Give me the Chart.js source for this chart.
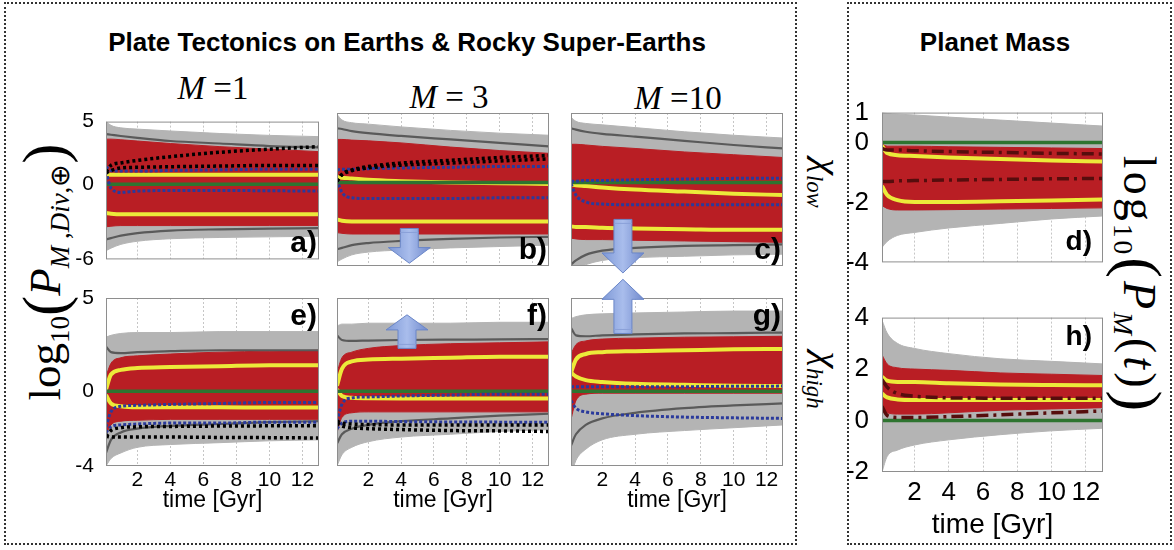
<!DOCTYPE html>
<html>
<head>
<meta charset="utf-8">
<script src="https://cdn.jsdelivr.net/npm/chart.js"></script>
<style>
  html, body { margin: 0; padding: 0; background: #fff; }
  #fig { position: relative; width: 1174px; height: 550px; overflow: hidden; font-family: 'Liberation Sans', Arial, sans-serif; }
  #fig canvas { position: absolute; }
  .box { position: absolute; border: 2px dotted #333; box-sizing: border-box; }
  .t { position: absolute; white-space: nowrap; transform: translate(-50%, -50%); line-height: 1; }
  .serif { font-family: 'Liberation Serif', 'Times New Roman', serif; }
  .sub { font-size: 0.6em; vertical-align: -0.35em; }
  .bp { font-size: 1.35em; vertical-align: -0.08em; }
</style>
</head>
<body>
<div id="fig">
  <div class="box" style="left:4px; top:2px; width:793px; height:543px;"></div>
  <div class="box" style="left:847px; top:2px; width:325px; height:543px;"></div>

  <div class="t" style="left:407px; top:42px; font-weight:bold; font-size:26px;">Plate Tectonics on Earths &amp; Rocky Super-Earths</div>
  <div class="t" style="left:995px; top:42px; font-weight:bold; font-size:26px;">Planet Mass</div>

  <div class="t serif" style="left:213px; top:88px; font-size:33px;"><i>M</i> =1</div>
  <div class="t serif" style="left:449px; top:97px; font-size:33px;"><i>M</i> = 3</div>
  <div class="t serif" style="left:678px; top:98px; font-size:33px;"><i>M</i> =10</div>

  <div class="t serif" style="left:45px; top:272px; font-size:45px; transform: translate(-50%, -50%) rotate(-90deg);">log<span class="sub">10</span><span class="bp">(</span><i>P</i><span class="sub"><i>M</i> ,<i>Div</i>,⊕</span><span class="bp">)</span></div>
  <div class="t serif" style="left:1140px; top:285px; font-size:46px; letter-spacing:3px; transform: translate(-50%, -50%) rotate(90deg);">log<span class="sub">10</span><span class="bp">(</span><i>P</i><span class="sub"><i>M</i></span>(<i>t</i>)<span class="bp">)</span></div>

  <div class="t serif" style="left:825px; top:183px; font-size:38px; transform: translate(-50%, -50%) rotate(90deg);"><i>χ</i><span class="sub"><i>low</i></span></div>
  <div class="t serif" style="left:825px; top:380px; font-size:38px; transform: translate(-50%, -50%) rotate(90deg);"><i>χ</i><span class="sub"><i>high</i></span></div>
</div>
<script>
// time samples (Gyr) shared by all curves
const TIME = [0.1, 0.4, 1, 2, 4, 7, 10, 13];
const X_TICKS = [2, 4, 6, 8, 10, 12];
const EARTH = [0, 0, 0, 0, 0, 0, 0, 0];

// a) M=1, chi low
const A_GRAY_HI = [5.0, 4.7, 4.5, 4.4, 4.25, 4.05, 3.9, 3.8];
const A_GRAY_LO = [-5.3, -5.1, -4.8, -4.55, -4.35, -4.25, -4.2, -4.15];
const A_RED_HI = [3.6, 3.6, 3.55, 3.45, 3.25, 3.0, 2.8, 2.6];
const A_RED_LO = [-3.4, -3.35, -3.3, -3.3, -3.3, -3.3, -3.3, -3.3];
const A_DGRAY_HI = [4.0, 3.95, 3.85, 3.7, 3.45, 3.25, 3.05, 2.95];
const A_DGRAY_LO = [-4.4, -4.3, -4.1, -3.9, -3.7, -3.6, -3.55, -3.5];
const A_YEL_HI = [0.85, 0.75, 0.75, 0.75, 0.75, 0.75, 0.75, 0.75];
const A_YEL_LO = [-2.3, -2.35, -2.4, -2.4, -2.4, -2.4, -2.4, -2.4];
const A_BLK_HI = [1.0, 1.5, 1.7, 1.9, 2.2, 2.55, 2.8, 3.0];
const A_BLK_LO = [0.9, 1.1, 1.3, 1.35, 1.4, 1.45, 1.5, 1.5];
const A_BLU_HI = [1.4, 1.1, 1.05, 1.05, 1.1, 1.15, 1.2, 1.2];
const A_BLU_LO = [1.0, -0.3, -0.65, -0.55, -0.5, -0.5, -0.52, -0.55];

// b) M=3, chi low
const B_GRAY_HI = [4.9, 4.5, 4.3, 4.2, 4.0, 3.75, 3.55, 3.4];
const B_GRAY_LO = [-5.7, -5.5, -5.2, -5.0, -4.85, -4.7, -4.6, -4.5];
const B_RED_HI = [3.1, 3.1, 3.05, 3.0, 2.85, 2.55, 2.3, 2.1];
const B_RED_LO = [-3.6, -3.65, -3.7, -3.7, -3.7, -3.7, -3.7, -3.7];
const B_DGRAY_HI = [3.9, 3.85, 3.7, 3.55, 3.35, 3.1, 2.85, 2.6];
const B_DGRAY_LO = [-4.8, -4.7, -4.5, -4.35, -4.2, -4.05, -3.95, -3.9];
const B_YEL_HI = [0.4, 0.35, 0.3, 0.2, 0.1, 0.0, -0.05, -0.1];
const B_YEL_LO = [-2.65, -2.75, -2.8, -2.8, -2.8, -2.8, -2.8, -2.8];
const B_BLK_HI = [0.1, 0.6, 0.9, 1.15, 1.4, 1.6, 1.8, 1.95];
const B_BLK_LO = [0.1, 0.55, 0.85, 1.05, 1.25, 1.4, 1.55, 1.7];
const B_BLU_HI = [0.9, 0.95, 0.95, 1.0, 1.05, 1.1, 1.15, 1.15];
const B_BLU_LO = [0.2, -0.7, -1.1, -1.15, -1.15, -1.15, -1.1, -1.1];

// c) M=10, chi low
const C_GRAY_HI = [4.7, 4.4, 4.25, 4.15, 3.95, 3.65, 3.4, 3.2];
const C_GRAY_LO = [-6.5, -6.2, -5.9, -5.6, -5.4, -5.3, -5.2, -5.15];
const C_RED_HI = [2.75, 2.75, 2.7, 2.6, 2.45, 2.2, 2.0, 1.8];
const C_RED_LO = [-4.0, -4.05, -4.1, -4.1, -4.15, -4.2, -4.25, -4.3];
const C_DGRAY_HI = [3.9, 3.8, 3.65, 3.5, 3.3, 3.0, 2.7, 2.45];
const C_DGRAY_LO = [-5.9, -5.6, -5.2, -4.9, -4.7, -4.55, -4.5, -4.45];
const C_YEL_HI = [-0.15, -0.2, -0.25, -0.35, -0.5, -0.65, -0.8, -0.9];
const C_YEL_LO = [-3.15, -3.2, -3.2, -3.25, -3.3, -3.35, -3.4, -3.4];
const C_BLU_HI = [0.1, 0.1, 0.15, 0.15, 0.2, 0.25, 0.3, 0.3];
const C_BLU_LO = [-0.1, -0.9, -1.4, -1.55, -1.6, -1.6, -1.6, -1.6];

// e) M=1, chi high
const E_GRAY_HI = [2.9, 3.0, 3.1, 3.15, 3.15, 3.2, 3.2, 3.2];
const E_GRAY_LO = [-4.0, -3.6, -3.3, -3.0, -2.85, -2.75, -2.65, -2.6];
const E_RED_HI = [0.8, 1.5, 1.8, 1.9, 2.0, 2.1, 2.15, 2.2];
const E_RED_LO = [-2.3, -1.8, -1.6, -1.55, -1.5, -1.5, -1.5, -1.5];
const E_DGRAY_HI = [2.4, 2.1, 2.05, 2.1, 2.15, 2.2, 2.2, 2.2];
const E_DGRAY_LO = [-3.3, -2.6, -2.2, -2.0, -1.85, -1.75, -1.65, -1.6];
const E_YEL_HI = [0.1, 0.9, 1.15, 1.25, 1.3, 1.35, 1.4, 1.4];
const E_YEL_LO = [-0.2, -0.65, -0.8, -0.85, -0.85, -0.85, -0.87, -0.87];
const E_BLK_HI = [-2.4, -2.1, -1.95, -1.9, -1.88, -1.86, -1.85, -1.85];
const E_BLK_LO = [-2.4, -2.45, -2.45, -2.45, -2.45, -2.47, -2.48, -2.5];
const E_BLU_HI = [-1.9, -1.1, -0.8, -0.75, -0.7, -0.65, -0.6, -0.6];
const E_BLU_LO = [-2.2, -1.9, -1.8, -1.75, -1.7, -1.7, -1.65, -1.65];

// f) M=3, chi high
const F_GRAY_HI = [3.5, 3.6, 3.6, 3.65, 3.65, 3.65, 3.7, 3.7];
const F_GRAY_LO = [-4.0, -3.4, -3.0, -2.7, -2.45, -2.3, -2.15, -2.05];
const F_RED_HI = [1.0, 1.8, 2.1, 2.3, 2.45, 2.55, 2.6, 2.65];
const F_RED_LO = [-2.2, -1.4, -1.15, -1.1, -1.1, -1.1, -1.1, -1.1];
const F_DGRAY_HI = [3.0, 2.75, 2.7, 2.72, 2.75, 2.77, 2.78, 2.8];
const F_DGRAY_LO = [-2.8, -2.3, -2.0, -1.8, -1.6, -1.45, -1.3, -1.2];
const F_YEL_HI = [0.3, 1.2, 1.6, 1.7, 1.75, 1.8, 1.85, 1.85];
const F_YEL_LO = [0.1, -0.25, -0.35, -0.37, -0.38, -0.38, -0.38, -0.38];
const F_BLK_HI = [-1.6, -1.7, -1.75, -1.78, -1.8, -1.8, -1.8, -1.8];
const F_BLK_LO = [-1.7, -1.85, -1.95, -2.0, -2.05, -2.1, -2.12, -2.15];
const F_BLU_HI = [-1.6, -0.7, -0.35, -0.3, -0.25, -0.2, -0.15, -0.15];
const F_BLU_LO = [-2.0, -1.7, -1.6, -1.6, -1.62, -1.64, -1.65, -1.66];

// g) M=10, chi high
const G_GRAY_HI = [3.9, 4.0, 4.1, 4.15, 4.2, 4.25, 4.3, 4.3];
const G_GRAY_LO = [-4.5, -3.7, -3.1, -2.6, -2.3, -2.1, -1.95, -1.8];
const G_RED_HI = [2.0, 2.5, 2.7, 2.8, 2.85, 2.9, 2.92, 2.95];
const G_RED_LO = [-1.5, -0.5, -0.15, -0.1, -0.1, -0.1, -0.1, -0.1];
const G_DGRAY_HI = [3.4, 3.0, 2.95, 3.0, 3.05, 3.1, 3.12, 3.15];
const G_DGRAY_LO = [-2.9, -2.3, -1.8, -1.45, -1.15, -0.9, -0.75, -0.65];
const G_YEL_HI = [1.0, 1.7, 2.0, 2.1, 2.15, 2.2, 2.25, 2.27];
const G_YEL_LO = [1.0, 0.8, 0.6, 0.5, 0.4, 0.35, 0.3, 0.28];
const G_BLU_HI = [0.25, 0.25, 0.25, 0.25, 0.25, 0.25, 0.27, 0.28];
const G_BLU_LO = [-0.5, -0.9, -1.1, -1.2, -1.3, -1.38, -1.42, -1.45];

// d) planet mass, chi low
const D_GRAY_HI = [1.0, 0.97, 0.95, 0.92, 0.85, 0.75, 0.65, 0.55];
const D_GRAY_LO = [-3.5, -3.3, -3.1, -3.0, -2.85, -2.7, -2.55, -2.45];
const D_RED_HI = [-0.05, -0.12, -0.12, -0.12, -0.14, -0.16, -0.18, -0.2];
const D_RED_LO = [-2.1, -2.2, -2.25, -2.25, -2.24, -2.22, -2.2, -2.18];
const D_YEL_HI = [-0.1, -0.35, -0.42, -0.45, -0.5, -0.55, -0.6, -0.63];
const D_YEL_LO = [-1.45, -1.75, -1.92, -1.98, -1.98, -1.96, -1.93, -1.9];
const D_DASH_HI = [-0.2, -0.25, -0.25, -0.27, -0.3, -0.33, -0.36, -0.38];
const D_DASH_LO = [-1.3, -1.3, -1.28, -1.27, -1.25, -1.23, -1.21, -1.2];

// h) planet mass, chi high
const H_GRAY_HI = [3.9, 3.4, 3.0, 2.8, 2.6, 2.4, 2.3, 2.2];
const H_GRAY_LO = [-2.0, -1.4, -1.15, -0.95, -0.75, -0.55, -0.4, -0.3];
const H_RED_HI = [2.55, 2.2, 2.05, 2.0, 1.95, 1.85, 1.8, 1.75];
const H_RED_LO = [0.4, 0.3, 0.25, 0.25, 0.3, 0.4, 0.45, 0.5];
const H_YEL_HI = [1.7, 1.55, 1.5, 1.5, 1.45, 1.4, 1.38, 1.37];
const H_YEL_LO = [1.05, 0.9, 0.82, 0.8, 0.8, 0.8, 0.8, 0.8];
const H_DASH_HI = [1.6, 1.3, 1.05, 0.95, 0.88, 0.87, 0.87, 0.87];
const H_DASH_LO = [0.55, 0.2, 0.12, 0.12, 0.15, 0.22, 0.3, 0.37];

// blue arrows (x in Gyr, from/to in log units)
const ARROW_B = [{ x: 4.5, from: -3.3, to: -5.8 }];
const ARROW_C = [{ x: 3.26, from: -2.65, to: -6.5 }];
const ARROW_F = [{ x: 4.36, from: 2.3, to: 4.1 }];
const ARROW_G = [{ x: 3.26, from: 3.1, to: 6.0 }];

const COL = {
  gray: '#b4b4b4', red: '#b91e24', yellow: '#ecea3a', dgray: '#5a5a5a',
  green: '#2e7430', black: '#000000', blue: '#2a3a9c', dash: '#560d0d'
};
const FONT = "'Liberation Sans', Arial, sans-serif";

const pts = (ys) => TIME.map((t, i) => ({ x: t, y: ys[i] }));

function line(ys, color, width, dash) {
  return {
    data: pts(ys), borderColor: color, borderWidth: width, borderDash: dash || [],
    fill: false, pointRadius: 0, cubicInterpolationMode: 'monotone', clip: 0,
  };
}

function band(hi, lo, color) {
  return [
    { data: pts(hi), borderColor: color, backgroundColor: color, borderWidth: 1, fill: '+1', pointRadius: 0, cubicInterpolationMode: 'monotone', clip: 0 },
    { data: pts(lo), borderColor: color, borderWidth: 1, fill: false, pointRadius: 0, cubicInterpolationMode: 'monotone', clip: 0 },
  ];
}

const blk = (ys) => line(ys, COL.black, 3.5, [3, 3]);
const blu = (ys) => line(ys, COL.blue, 3, [3, 2]);
const ddot = (ys) => line(ys, COL.dash, 3.5, [12, 5, 3, 5]);
const yel = (ys) => line(ys, COL.yellow, 4);
const dgr = (ys) => line(ys, COL.dgray, 2.2);
const grn = () => line(EARTH, COL.green, 3.5);

function drawArrow(ctx, cx, y0, y1) {
  const dir = y1 > y0 ? 1 : -1;
  const sw = 9;
  const hw = 21;
  const hl = Math.min(20, Math.abs(y1 - y0) * 0.45);
  const yh = y1 - dir * hl;
  const g = ctx.createLinearGradient(cx - hw, 0, cx + hw, 0);
  g.addColorStop(0, '#7d98d6');
  g.addColorStop(0.5, '#a9bdec');
  g.addColorStop(1, '#7089cc');
  ctx.beginPath();
  ctx.moveTo(cx - sw, y0);
  ctx.lineTo(cx + sw, y0);
  ctx.lineTo(cx + sw, yh);
  ctx.lineTo(cx + hw, yh);
  ctx.lineTo(cx, y1);
  ctx.lineTo(cx - hw, yh);
  ctx.lineTo(cx - sw, yh);
  ctx.closePath();
  ctx.fillStyle = g;
  ctx.fill();
  ctx.strokeStyle = '#6a86c8';
  ctx.lineWidth = 1;
  ctx.stroke();
  ctx.beginPath();
  ctx.moveTo(cx - sw, y0 + dir * 4);
  ctx.lineTo(cx + sw, y0 + dir * 4);
  ctx.strokeStyle = '#8aa0d8';
  ctx.stroke();
}

const deco = {
  id: 'deco',
  afterDatasetsDraw(chart, args, o) {
    const { ctx, chartArea: a, scales } = chart;
    ctx.save();
    ctx.strokeStyle = '#8e8e8e';
    ctx.lineWidth = 1;
    ctx.strokeRect(a.left + 0.5, a.top + 0.5, a.width - 1, a.height - 1);
    (o.arrows || []).forEach((ar) => {
      drawArrow(ctx, scales.x.getPixelForValue(ar.x), scales.y.getPixelForValue(ar.from), scales.y.getPixelForValue(ar.to));
    });
    ctx.font = `bold ${o.letterSize}px ${FONT}`;
    ctx.fillStyle = '#000';
    ctx.textAlign = 'right';
    if (o.letterAt === 'bottom') {
      ctx.textBaseline = 'alphabetic';
      ctx.fillText(o.letter, a.right - o.letterRight, a.bottom - o.letterOff);
    } else {
      ctx.textBaseline = 'top';
      ctx.fillText(o.letter, a.right - o.letterRight, a.top + o.letterOff);
    }
    ctx.restore();
  },
};

function panel(p) {
  const cv = document.createElement('canvas');
  const w = p.w + p.padL + p.padR;
  const h = p.h + p.padT + p.padB;
  cv.width = w;
  cv.height = h;
  cv.style.left = `${p.x - p.padL}px`;
  cv.style.top = `${p.y - p.padT}px`;
  document.getElementById('fig').appendChild(cv);
  const big = p.big;
  return new Chart(cv, {
    type: 'line',
    data: { datasets: p.sets },
    options: {
      responsive: false,
      animation: false,
      devicePixelRatio: 1,
      layout: { padding: { top: p.padT, right: p.padR, left: 0, bottom: 0 } },
      plugins: {
        legend: { display: false },
        tooltip: { enabled: false },
        deco: {
          letter: p.letter, letterAt: p.letterAt, letterSize: p.letterSize || 30,
          letterRight: p.letterRight || 2, letterOff: p.letterOff || 7, arrows: p.arrows,
        },
      },
      scales: {
        x: {
          type: 'linear',
          min: 0.1,
          max: 13,
          afterBuildTicks: (s) => { s.ticks = X_TICKS.map((v) => ({ value: v })); },
          afterFit: (s) => { s.height = p.padB; },
          grid: { color: '#c6c6c6', lineWidth: 1, drawTicks: false },
          border: { display: false, dash: [2, 2] },
          ticks: {
            display: !!p.xLabels, color: '#000', padding: big ? 5 : 2, maxRotation: 0, autoSkip: false,
            font: { family: FONT, size: big ? 26 : 21 },
          },
          title: {
            display: !!p.xLabels, text: 'time [Gyr]', color: '#000', padding: 0,
            font: { family: FONT, size: big ? 28 : 23 },
          },
        },
        y: {
          min: p.yMin,
          max: p.yMax,
          afterBuildTicks: (s) => { s.ticks = (p.yTicks || []).map((v) => ({ value: v })); },
          afterFit: (s) => { s.width = p.padL; },
          grid: { display: false },
          border: { display: false },
          ticks: {
            display: !!p.yTicks, color: '#000', padding: big ? 5 : 4,
            font: { family: FONT, size: big ? 26 : 21 },
            callback: (v) => String(v),
          },
        },
      },
    },
    plugins: [deco],
  });
}

panel({
  x: 106, y: 113, w: 213, h: 153, padL: 40, padT: 8, padR: 4, padB: 10,
  yMin: -6, yMax: 5, yTicks: [5, 0, -6], letter: 'a)', letterAt: 'bottom',
  sets: [blk(A_BLK_HI), blk(A_BLK_LO), blu(A_BLU_HI), blu(A_BLU_LO), grn(),
    dgr(A_DGRAY_HI), dgr(A_DGRAY_LO), yel(A_YEL_HI), yel(A_YEL_LO),
    ...band(A_RED_HI, A_RED_LO, COL.red), ...band(A_GRAY_HI, A_GRAY_LO, COL.gray)],
});
panel({
  x: 337, y: 113, w: 212, h: 153, padL: 4, padT: 8, padR: 4, padB: 10,
  yMin: -6, yMax: 5, letter: 'b)', letterAt: 'bottom', arrows: ARROW_B,
  sets: [blk(B_BLK_HI), blk(B_BLK_LO), blu(B_BLU_HI), blu(B_BLU_LO), grn(),
    dgr(B_DGRAY_HI), dgr(B_DGRAY_LO), yel(B_YEL_HI), yel(B_YEL_LO),
    ...band(B_RED_HI, B_RED_LO, COL.red), ...band(B_GRAY_HI, B_GRAY_LO, COL.gray)],
});
panel({
  x: 571, y: 113, w: 212, h: 153, padL: 4, padT: 8, padR: 4, padB: 10,
  yMin: -6, yMax: 5, letter: 'c)', letterAt: 'bottom', arrows: ARROW_C,
  sets: [blu(C_BLU_HI), blu(C_BLU_LO), grn(),
    dgr(C_DGRAY_HI), dgr(C_DGRAY_LO), yel(C_YEL_HI), yel(C_YEL_LO),
    ...band(C_RED_HI, C_RED_LO, COL.red), ...band(C_GRAY_HI, C_GRAY_LO, COL.gray)],
});
panel({
  x: 106, y: 298, w: 213, h: 168, padL: 40, padT: 22, padR: 4, padB: 48,
  yMin: -4, yMax: 5, yTicks: [5, 0, -4], xLabels: true, letter: 'e)', letterAt: 'top', letterOff: 4,
  sets: [blk(E_BLK_HI), blk(E_BLK_LO), blu(E_BLU_HI), blu(E_BLU_LO), grn(),
    dgr(E_DGRAY_HI), dgr(E_DGRAY_LO), yel(E_YEL_HI), yel(E_YEL_LO),
    ...band(E_RED_HI, E_RED_LO, COL.red), ...band(E_GRAY_HI, E_GRAY_LO, COL.gray)],
});
panel({
  x: 337, y: 298, w: 212, h: 168, padL: 4, padT: 22, padR: 4, padB: 48,
  yMin: -4, yMax: 5, xLabels: true, letter: 'f)', letterAt: 'top', letterOff: 4, arrows: ARROW_F,
  sets: [blk(F_BLK_HI), blk(F_BLK_LO), blu(F_BLU_HI), blu(F_BLU_LO), grn(),
    dgr(F_DGRAY_HI), dgr(F_DGRAY_LO), yel(F_YEL_HI), yel(F_YEL_LO),
    ...band(F_RED_HI, F_RED_LO, COL.red), ...band(F_GRAY_HI, F_GRAY_LO, COL.gray)],
});
panel({
  x: 571, y: 298, w: 212, h: 168, padL: 4, padT: 22, padR: 4, padB: 48,
  yMin: -4, yMax: 5, xLabels: true, letter: 'g)', letterAt: 'top', letterOff: 4, arrows: ARROW_G,
  sets: [blu(G_BLU_HI), blu(G_BLU_LO), grn(),
    dgr(G_DGRAY_HI), dgr(G_DGRAY_LO), yel(G_YEL_HI), yel(G_YEL_LO),
    ...band(G_RED_HI, G_RED_LO, COL.red), ...band(G_GRAY_HI, G_GRAY_LO, COL.gray)],
});
panel({
  x: 882, y: 106, w: 221, h: 163, padL: 40, padT: 14, padR: 4, padB: 14, big: true,
  yMin: -4, yMax: 1, yTicks: [1, 0, -2, -4], letter: 'd)', letterAt: 'bottom', letterRight: 11, letterOff: 12, letterSize: 28,
  sets: [ddot(D_DASH_HI), ddot(D_DASH_LO), grn(), yel(D_YEL_HI), yel(D_YEL_LO),
    ...band(D_RED_HI, D_RED_LO, COL.red), ...band(D_GRAY_HI, D_GRAY_LO, COL.gray)],
});
panel({
  x: 882, y: 311, w: 221, h: 161, padL: 40, padT: 14, padR: 4, padB: 70, big: true,
  yMin: -2, yMax: 4, yTicks: [4, 2, 0, -2], xLabels: true, letter: 'h)', letterAt: 'top', letterRight: 11, letterOff: 6, letterSize: 28,
  sets: [ddot(H_DASH_HI), ddot(H_DASH_LO), grn(), yel(H_YEL_HI), yel(H_YEL_LO),
    ...band(H_RED_HI, H_RED_LO, COL.red), ...band(H_GRAY_HI, H_GRAY_LO, COL.gray)],
});
</script>
</body>
</html>
